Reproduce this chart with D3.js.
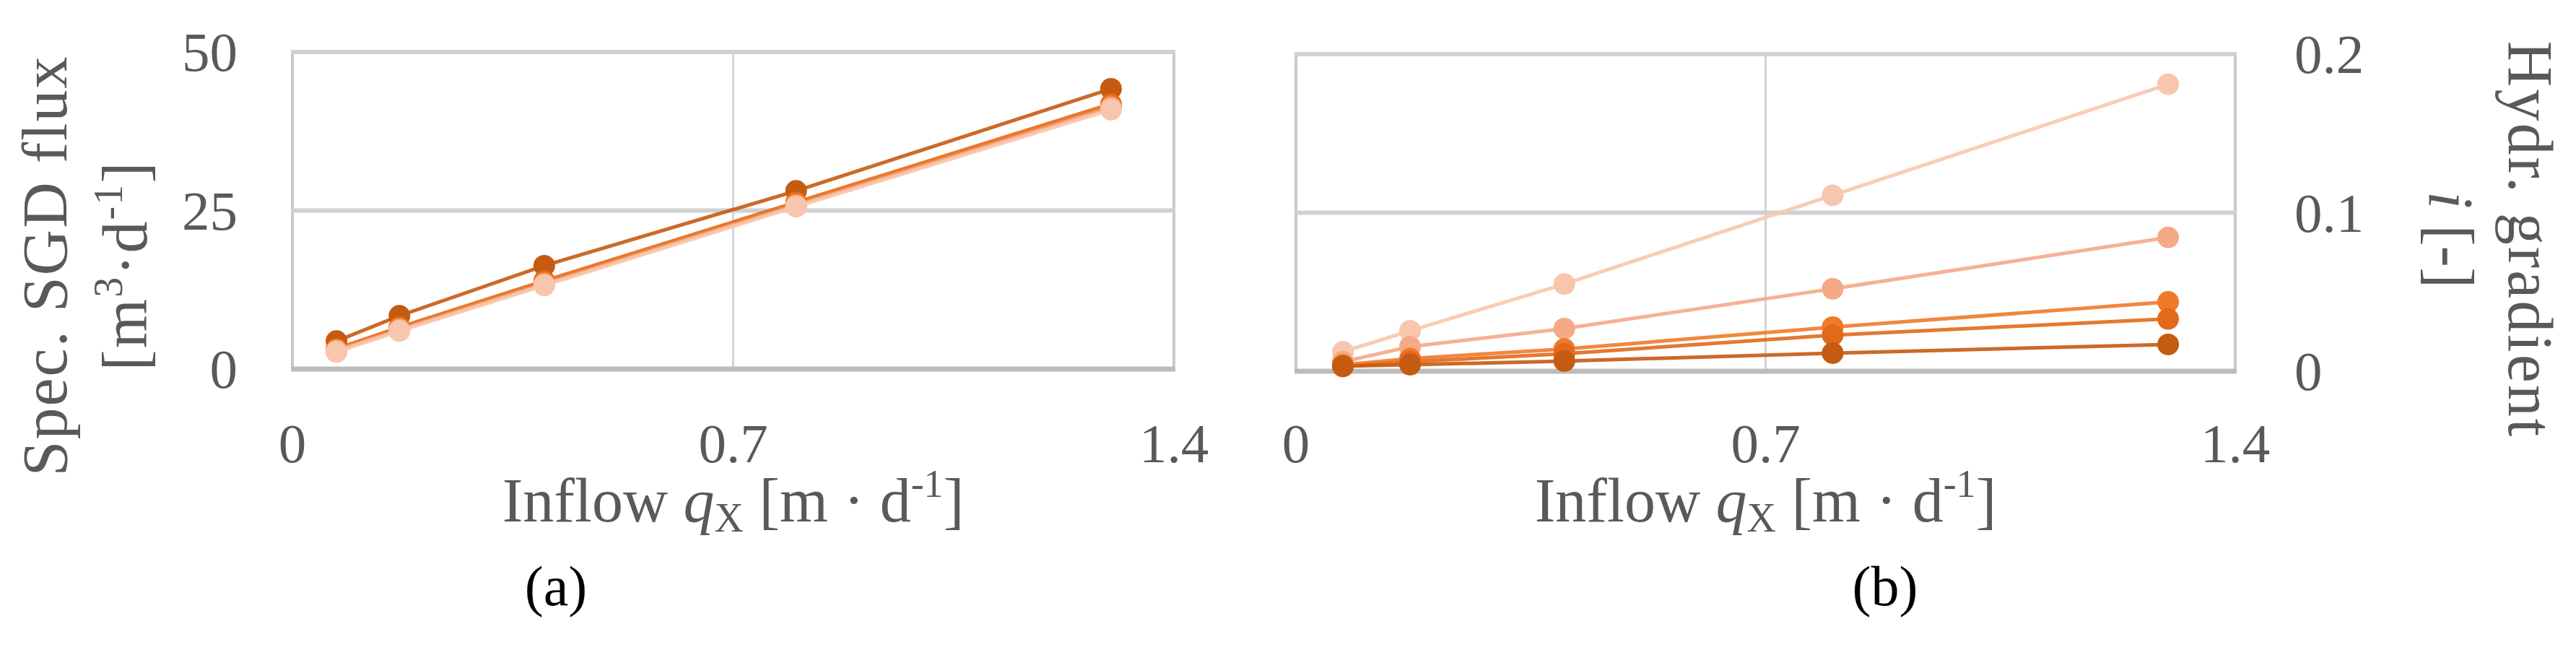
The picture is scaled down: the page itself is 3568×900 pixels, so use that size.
<!DOCTYPE html>
<html>
<head>
<meta charset="utf-8">
<script src="https://cdn.jsdelivr.net/npm/d3@7"></script>
<style>
  html, body { margin: 0; padding: 0; background: #ffffff; }
  svg { display: block; }
</style>
</head>
<body>
<svg id="chart" width="3568" height="900"></svg>
<script>
// ---------------- DATA ----------------
const inflowX = [0.07, 0.17, 0.4, 0.8, 1.3];          // Inflow q_X [m·d-1]

// (a) Spec. SGD flux [m3·d-1]
const fluxSeries1 = [4.4, 8.4, 16.3, 28.1, 44.2];
const fluxSeries2 = [3.2, 6.6, 13.9, 26.3, 41.8];
const fluxSeries3 = [3.0, 6.4, 13.6, 26.0, 41.5];
const fluxSeries4 = [2.9, 6.2, 13.4, 25.8, 41.2];
const fluxSeries5 = [2.7, 6.0, 13.2, 25.6, 40.9];

// (b) Hydr. gradient i [-]
const gradSeries1 = [0.0032, 0.0041, 0.0064, 0.0114, 0.0169];
const gradSeries2 = [0.0030, 0.0060, 0.0110, 0.0228, 0.0330];
const gradSeries3 = [0.0040, 0.0080, 0.0140, 0.0278, 0.0437];
const gradSeries4 = [0.0060, 0.0155, 0.0269, 0.0520, 0.0844];
const gradSeries5 = [0.0123, 0.0255, 0.0550, 0.1110, 0.1810];

const xTicks = [0, 0.7, 1.4];
const xTickLabels = ["0", "0.7", "1.4"];
const fluxTicks = [0, 25, 50];
const fluxTickLabels = ["0", "25", "50"];
const gradTicks = [0, 0.1, 0.2];
const gradTickLabels = ["0", "0.1", "0.2"];

const seriesColors = ["#c55a11", "#e2691a", "#ef7a2a", "#f4aa86", "#f8c6ad"];

// ---------------- LAYOUT ----------------
const svg = d3.select("#chart");
svg.append("rect").attr("width", 3568).attr("height", 900).attr("fill", "#ffffff");

const FONT = "'Liberation Serif', 'DejaVu Serif', serif";
const textGray = "#595959";

const panels = [
  { left: 405, right: 1626, top: 72, bottom: 511, yDomain: [0, 50], yTicks: fluxTicks, yLabels: fluxTickLabels, yAxisSide: "left",
    series: [fluxSeries1, fluxSeries2, fluxSeries3, fluxSeries4, fluxSeries5], colorIdx: [0, 1, 2, 3, 4], letter: "(a)", letterX: 770 },
  { left: 1795, right: 3096, top: 75, bottom: 514, yDomain: [0, 0.2], yTicks: gradTicks, yLabels: gradTickLabels, yAxisSide: "right",
    series: [gradSeries5, gradSeries4, gradSeries3, gradSeries2, gradSeries1], colorIdx: [4, 3, 2, 1, 0], letter: "(b)", letterX: 2611 }
];

panels.forEach(p => {
  const x = d3.scaleLinear().domain([0, 1.4]).range([p.left, p.right]);
  const y = d3.scaleLinear().domain(p.yDomain).range([p.bottom, p.top]);
  const g = svg.append("g");

  // vertical gridlines / borders
  g.selectAll("line.vg").data(xTicks).enter().append("line")
    .attr("x1", d => x(d)).attr("x2", d => x(d))
    .attr("y1", p.top).attr("y2", p.bottom)
    .attr("stroke", (d, i) => i === 1 ? "#d4d4d4" : "#c9c9c9")
    .attr("stroke-width", (d, i) => i === 1 ? 3 : 4);

  // horizontal gridlines
  g.selectAll("line.hg").data(p.yTicks).enter().append("line")
    .attr("x1", p.left - 2).attr("x2", p.right + 2)
    .attr("y1", d => y(d)).attr("y2", d => y(d))
    .attr("stroke", (d, i) => i === 0 ? "#bcbcbc" : "#d0d0d0")
    .attr("stroke-width", (d, i) => i === 0 ? 7 : 6);

  // series lines + markers
  const line = d3.line().x((d, i) => x(inflowX[i])).y(d => y(d));
  p.series.forEach((vals, si) => {
    const c = seriesColors[p.colorIdx[si]];
    g.append("path").datum(vals)
      .attr("d", line)
      .attr("fill", "none")
      .attr("stroke", c)
      .attr("stroke-width", 5)
      .attr("stroke-opacity", 0.9);
    g.selectAll(null).data(vals).enter().append("circle")
      .attr("cx", (d, i) => x(inflowX[i]))
      .attr("cy", d => y(d))
      .attr("r", 15)
      .attr("fill", c);
  });

  // x tick labels
  g.selectAll("text.xt").data(xTicks).enter().append("text")
    .attr("x", d => x(d)).attr("y", 640)
    .attr("text-anchor", "middle")
    .attr("font-family", FONT).attr("font-size", 77)
    .attr("fill", textGray)
    .text((d, i) => xTickLabels[i]);

  // y tick labels
  g.selectAll("text.yt").data(p.yTicks).enter().append("text")
    .attr("x", p.yAxisSide === "left" ? 329 : 3178)
    .attr("y", d => y(d) + 26)
    .attr("text-anchor", p.yAxisSide === "left" ? "end" : "start")
    .attr("font-family", FONT).attr("font-size", 77)
    .attr("fill", textGray)
    .text((d, i) => p.yLabels[i]);

  // x axis title: Inflow q_X [m · d-1]
  const xt = g.append("text")
    .attr("x", (p.left + p.right) / 2).attr("y", 722)
    .attr("text-anchor", "middle")
    .attr("font-family", FONT).attr("font-size", 86)
    .attr("fill", textGray);
  xt.append("tspan").text("Inflow ");
  xt.append("tspan").attr("font-style", "italic").text("q");
  xt.append("tspan").attr("font-size", 56).attr("dy", 14).text("X");
  xt.append("tspan").attr("dy", -14).text(" [m · d");
  xt.append("tspan").attr("font-size", 54).attr("dy", -34).text("-1");
  xt.append("tspan").attr("dy", 34).text("]");

  // panel letter
  g.append("text")
    .attr("x", p.letterX).attr("y", 838)
    .attr("text-anchor", "middle")
    .attr("font-family", FONT).attr("font-size", 78)
    .attr("fill", "#000000")
    .text(p.letter);
});

// left y-axis title (rotated, reads bottom-to-top)
const ltCy = 368;
svg.append("text")
  .attr("transform", `translate(92,${ltCy}) rotate(-90)`)
  .attr("text-anchor", "middle")
  .attr("font-family", FONT).attr("font-size", 88)
  .attr("letter-spacing", 2)
  .attr("fill", textGray)
  .text("Spec. SGD flux");
const lt2 = svg.append("text")
  .attr("transform", `translate(203,${ltCy}) rotate(-90)`)
  .attr("text-anchor", "middle")
  .attr("font-family", FONT).attr("font-size", 88)
  .attr("letter-spacing", 2)
  .attr("fill", textGray);
lt2.append("tspan").text("[m");
lt2.append("tspan").attr("font-size", 56).attr("dy", -34).text("3");
lt2.append("tspan").attr("dy", 34).text("·d");
lt2.append("tspan").attr("font-size", 56).attr("dy", -34).text("-1");
lt2.append("tspan").attr("dy", 34).text("]");

// right y-axis title (rotated, reads top-to-bottom)
const rtCy = 332;
svg.append("text")
  .attr("transform", `translate(3475,${rtCy}) rotate(90)`)
  .attr("text-anchor", "middle")
  .attr("font-family", FONT).attr("font-size", 88)
  .attr("letter-spacing", 3)
  .attr("fill", textGray)
  .text("Hydr. gradient");
const rt2 = svg.append("text")
  .attr("transform", `translate(3365,${rtCy}) rotate(90)`)
  .attr("text-anchor", "middle")
  .attr("font-family", FONT).attr("font-size", 88)
  .attr("fill", textGray);
rt2.append("tspan").attr("font-style", "italic").text("i");
rt2.append("tspan").text(" [-]");
</script>
</body>
</html>
